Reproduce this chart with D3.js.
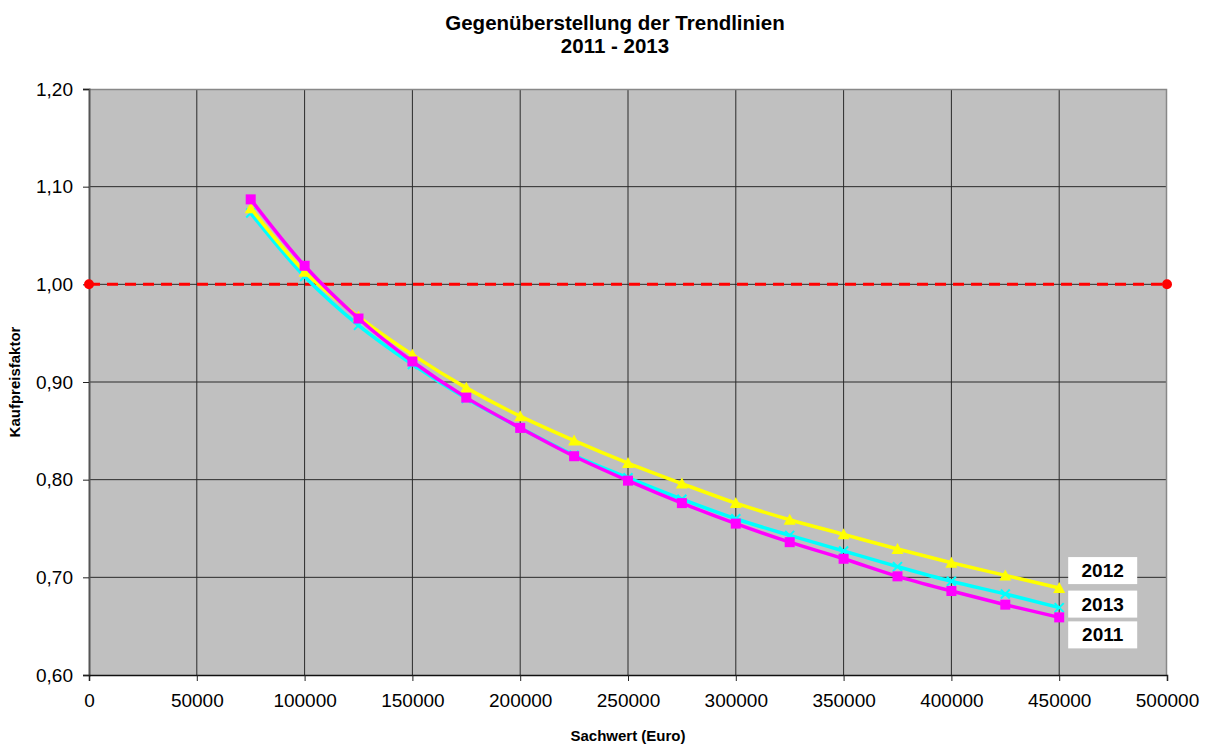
<!DOCTYPE html>
<html>
<head>
<meta charset="utf-8">
<script src="https://cdn.jsdelivr.net/npm/d3@7"></script>
<style>
  html, body { margin: 0; padding: 0; background: #fff; }
  svg { display: block; font-family: "Liberation Sans", Arial, sans-serif; }
</style>
</head>
<body>
<div id="chart"></div>
<script>
// Sachwert (Euro) sample points
const sachwert = [75000, 100000, 125000, 150000, 175000, 200000, 225000, 250000,
  275000, 300000, 325000, 350000, 375000, 400000, 425000, 450000];

// Kaufpreisfaktor per year
const kpf2011 = [1.087, 1.019, 0.965, 0.921, 0.884, 0.853, 0.824, 0.799,
  0.776, 0.755, 0.736, 0.719, 0.701, 0.686, 0.672, 0.659];
const kpf2012 = [1.078, 1.013, 0.967, 0.928, 0.894, 0.865, 0.840, 0.817,
  0.796, 0.776, 0.759, 0.744, 0.729, 0.715, 0.702, 0.689];
const kpf2013 = [1.073, 1.008, 0.958, 0.918, 0.883, 0.853, 0.825, 0.802,
  0.780, 0.760, 0.743, 0.727, 0.711, 0.696, 0.683, 0.669];

// reference line at factor 1,00
const refX = [0, 500000];
const refY = [1.0, 1.0];

const xTicks = [0, 50000, 100000, 150000, 200000, 250000, 300000, 350000, 400000, 450000, 500000];
const yTicks = [0.6, 0.7, 0.8, 0.9, 1.0, 1.1, 1.2];

const width = 1206, height = 745;
const margin = { top: 89, right: 39, bottom: 70, left: 89 };
const plotW = width - margin.left - margin.right;
const plotH = height - margin.top - margin.bottom;

const svg = d3.select("#chart").append("svg")
  .attr("width", width)
  .attr("height", height);

const x = d3.scaleLinear().domain([0, 500000]).range([0, plotW]);
const y = d3.scaleLinear().domain([0.6, 1.2]).range([plotH, 0]);

const g = svg.append("g").attr("transform", `translate(${margin.left},${margin.top})`);

// plot background
g.append("rect")
  .attr("width", plotW)
  .attr("height", plotH)
  .attr("fill", "#c0c0c0");

// grid
g.append("g")
  .selectAll("line")
  .data(xTicks.slice(1, -1))
  .join("line")
  .attr("x1", d => x(d)).attr("x2", d => x(d))
  .attr("y1", 0).attr("y2", plotH)
  .attr("stroke", "#2a2a2a").attr("stroke-width", 1);

g.append("g")
  .selectAll("line")
  .data(yTicks.slice(1, -1))
  .join("line")
  .attr("y1", d => y(d)).attr("y2", d => y(d))
  .attr("x1", 0).attr("x2", plotW)
  .attr("stroke", "#2a2a2a").attr("stroke-width", 1);

// top and right border
g.append("path")
  .attr("d", `M0,0.5H${plotW - 0.5}V${plotH}`)
  .attr("fill", "none")
  .attr("stroke", "#888").attr("stroke-width", 1.5);

// axes
const fmtY = d3.format(".2f");
const yAxis = g.append("g")
  .call(d3.axisLeft(y).tickValues(yTicks).tickSize(6).tickPadding(10)
    .tickFormat(d => fmtY(d).replace(".", ",")));
yAxis.select(".domain").attr("stroke", "#555").attr("stroke-width", 2);
yAxis.selectAll(".tick line").attr("stroke", "#222");
yAxis.selectAll("text")
  .attr("font-size", 19)
  .attr("font-family", "Liberation Sans, Arial, sans-serif")
  .attr("fill", "#000");

const xAxis = g.append("g")
  .attr("transform", `translate(0,${plotH})`)
  .call(d3.axisBottom(x).tickValues(xTicks).tickSize(6).tickPadding(13)
    .tickFormat(d3.format("d")));
xAxis.select(".domain").attr("stroke", "#111").attr("stroke-width", 1.5);
xAxis.selectAll(".tick line").attr("stroke", "#222");
xAxis.selectAll("text")
  .attr("font-size", 19)
  .attr("font-family", "Liberation Sans, Arial, sans-serif")
  .attr("fill", "#000");

// red reference line
const refPts = refX.map((v, i) => [v, refY[i]]);
g.append("path")
  .datum(refPts)
  .attr("d", d3.line().x(d => x(d[0])).y(d => y(d[1])))
  .attr("stroke", "#ff0000")
  .attr("stroke-width", 3)
  .attr("stroke-dasharray", "11,7")
  .attr("fill", "none");
g.append("g")
  .selectAll("circle")
  .data(refPts)
  .join("circle")
  .attr("cx", d => x(d[0]))
  .attr("cy", d => y(d[1]))
  .attr("r", 5)
  .attr("fill", "#ff0000");

// trend lines
const series = [
  { name: "2013", values: kpf2013, color: "#00ffff", marker: "x", labelDy: -4 },
  { name: "2012", values: kpf2012, color: "#ffff00", marker: "tri", labelDy: -18 },
  { name: "2011", values: kpf2011, color: "#ff00ff", marker: "sq", labelDy: 17 }
];

const line = d3.line()
  .x(d => x(d[0]))
  .y(d => y(d[1]))
  .curve(d3.curveCatmullRom.alpha(0.5));

series.forEach(s => {
  const pts = sachwert.map((v, i) => [v, s.values[i]]);
  const sg = g.append("g");
  sg.append("path")
    .datum(pts)
    .attr("d", line)
    .attr("fill", "none")
    .attr("stroke", s.color)
    .attr("stroke-width", 3.5);

  const m = sg.append("g").selectAll("g")
    .data(pts)
    .join("g")
    .attr("transform", d => `translate(${x(d[0])},${y(d[1])})`);

  if (s.marker === "sq") {
    m.append("rect")
      .attr("x", -5).attr("y", -5).attr("width", 10).attr("height", 10)
      .attr("fill", s.color);
  } else if (s.marker === "tri") {
    m.append("path")
      .attr("d", "M0,-6L6,5H-6Z")
      .attr("fill", s.color);
  } else {
    m.append("path")
      .attr("d", "M-4.5,-4.5L4.5,4.5M-4.5,4.5L4.5,-4.5")
      .attr("stroke", s.color)
      .attr("stroke-width", 2);
  }
});

// series labels at the end of each line
const last = sachwert.length - 1;
series.forEach(s => {
  const cx = x(sachwert[last]) + 9;
  const cy = y(s.values[last]) + s.labelDy;
  g.append("rect")
    .attr("x", cx).attr("y", cy - 13)
    .attr("width", 69).attr("height", 27)
    .attr("fill", "#fff");
  g.append("text")
    .attr("x", cx + 34.5).attr("y", cy + 7)
    .attr("text-anchor", "middle")
    .attr("font-size", 19)
    .attr("font-weight", "bold")
    .attr("fill", "#000")
    .text(s.name);
});

// titles
svg.append("text")
  .attr("x", 615).attr("y", 30)
  .attr("text-anchor", "middle")
  .attr("font-size", 20.5).attr("font-weight", "bold")
  .text("Gegenüberstellung der Trendlinien");
svg.append("text")
  .attr("x", 615).attr("y", 53)
  .attr("text-anchor", "middle")
  .attr("font-size", 20.5).attr("font-weight", "bold")
  .text("2011 - 2013");

svg.append("text")
  .attr("x", margin.left + plotW / 2).attr("y", 741)
  .attr("text-anchor", "middle")
  .attr("font-size", 15).attr("font-weight", "bold")
  .text("Sachwert (Euro)");

svg.append("text")
  .attr("transform", `translate(20,${margin.top + plotH / 2}) rotate(-90)`)
  .attr("text-anchor", "middle")
  .attr("font-size", 15).attr("font-weight", "bold")
  .text("Kaufpreisfaktor");
</script>
</body>
</html>
